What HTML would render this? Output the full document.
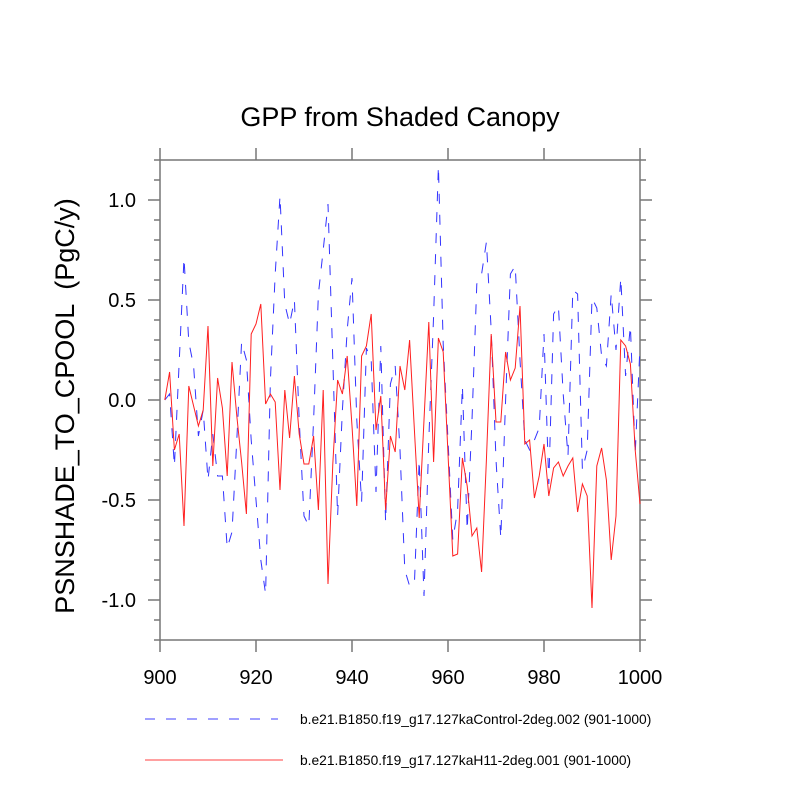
<!DOCTYPE html>
<html><head><meta charset="utf-8"><style>
html,body{margin:0;padding:0;background:#fff;}
svg{display:block;font-family:"Liberation Sans",Arial,sans-serif;}
</style></head><body>
<svg id="chart" width="800" height="800" viewBox="0 0 800 800">
<rect width="800" height="800" fill="#fff"/>
<text x="400" y="126" text-anchor="middle" font-size="27" fill="#000">GPP from Shaded Canopy</text>
<text transform="translate(74,406) rotate(-90)" text-anchor="middle" font-size="27" fill="#000" xml:space="preserve">PSNSHADE_TO_CPOOL  (PgC/y)</text>
<g id="axes"></g>
<g id="series"></g>
<g>
<line x1="145" y1="719" x2="278" y2="719" stroke="#4040ff" stroke-width="1" stroke-dasharray="10,11"/>
<text x="300" y="724" font-size="13.8" fill="#000">b.e21.B1850.f19_g17.127kaControl-2deg.002 (901-1000)</text>
<line x1="145" y1="760" x2="283" y2="760" stroke="#ff4040" stroke-width="1"/>
<text x="300" y="765" font-size="13.8" fill="#000">b.e21.B1850.f19_g17.127kaH11-2deg.001 (901-1000)</text>
</g>
</svg>
<script>
const years = Array.from({length:100},(_,i)=>901+i);
const controlValues = [0,0.03,-0.33,0.19,0.71,0.29,0.17,-0.18,-0.05,-0.40,
-0.17,-0.38,-0.38,-0.74,-0.66,-0.2,0.29,0.2,-0.2,-0.5,
-0.8,-0.97,0.1,0.63,1.02,0.48,0.38,0.5,-0.1,-0.58,
-0.63,-0.1,0.53,0.75,0.98,0.2,-0.58,-0.05,0.35,0.61,
-0.1,-0.51,0.26,0.2,-0.46,0.27,-0.61,0.08,0.17,-0.25,
-0.85,-0.93,-0.92,-0.3,-0.98,-0.2,0.42,1.17,0.28,-0.2,
-0.7,-0.55,0.07,-0.65,-0.1,0.58,0.63,0.79,0.35,-0.3,
-0.69,0.0,0.63,0.67,0.2,-0.2,-0.25,-0.2,-0.14,0.33,
-0.42,0.43,0.47,0.03,-0.28,0.55,0.53,-0.35,-0.25,0.51,
0.46,0.22,0.17,0.53,0.25,0.61,0.12,0.37,-0.27,0.27];
const h11Values = [0,0.14,-0.25,-0.17,-0.63,0.07,-0.03,-0.13,-0.05,0.37,
-0.33,0.11,-0.04,-0.38,0.19,-0.08,-0.31,-0.57,0.33,0.38,
0.48,-0.02,0.03,-0.01,-0.45,0.05,-0.19,0.12,-0.17,-0.32,
-0.32,-0.18,-0.55,0.05,-0.92,-0.32,0.10,0.03,0.22,-0.13,
-0.53,0.22,0.27,0.43,-0.15,0.02,-0.55,-0.18,-0.26,0.17,
0.05,0.30,-0.15,-0.59,-0.1,0.39,-0.31,0.31,0.24,-0.27,
-0.78,-0.77,-0.29,-0.43,-0.68,-0.64,-0.86,-0.3,0.33,-0.11,
-0.11,0.24,0.10,0.16,0.47,-0.22,-0.20,-0.49,-0.38,-0.22,
-0.48,-0.34,-0.31,-0.38,-0.33,-0.29,-0.56,-0.42,-0.48,-1.04,
-0.33,-0.24,-0.40,-0.80,-0.58,0.30,0.27,0.18,-0.25,-0.52];
const xTicks = [900,920,940,960,980,1000];
const yTicks = [-1.0,-0.5,0.0,0.5,1.0];
const yTickLabels = ["-1.0","-0.5","0.0","0.5","1.0"];

const L=160,R=640,T=160,B=640;
const xs = v => L + (v-900)/100*(R-L);
const ys = v => 400 - v*200;
const NS='http://www.w3.org/2000/svg';
const axes=document.getElementById('axes');
const ser=document.getElementById('series');
function mk(tag,attrs,parent){const e=document.createElementNS(NS,tag);for(const k in attrs)e.setAttribute(k,attrs[k]);parent.appendChild(e);return e;}
const ac='#777';
const frame=mk('rect',{x:L,y:T,width:R-L,height:B-T,fill:'none',stroke:ac,'stroke-width':1.5},axes);


xTicks.forEach(t=>{
  const x=xs(t);
  const tb=mk('line',{x1:x,y1:B,x2:x,y2:B+12,stroke:ac,'stroke-width':1.5},axes);
  
  
  const tt=mk('line',{x1:x,y1:T,x2:x,y2:T-12,stroke:ac,'stroke-width':1.5},axes);
  
  
  const lb=mk('text',{x:x,y:B+44,'text-anchor':'middle','font-size':20,fill:'#000'},axes);
  lb.textContent=t;
  
  
});
for(let k=-12;k<=12;k++){
  const v=k/10,y=ys(v);
  const major=(k%5===0);
  const len=major?12:6;
  const a=mk('line',{x1:L,y1:y,x2:L-len,y2:y,stroke:ac,'stroke-width':1.5},axes);
  
  
  const b=mk('line',{x1:R,y1:y,x2:R+len,y2:y,stroke:ac,'stroke-width':1.5},axes);
  
  
}
yTicks.forEach((t,i)=>{
  const lb=mk('text',{x:L-24,y:ys(t)+7,'text-anchor':'end','font-size':20,fill:'#000'},axes);
  lb.textContent=yTickLabels[i];
  
  
});
function pts(vals){return vals.map((v,i)=>xs(years[i]).toFixed(2)+','+ys(v).toFixed(2)).join(' ');}
const pc=mk('polyline',{points:pts(controlValues),fill:'none',stroke:'#3333ff','stroke-width':1,'stroke-dasharray':'10,11'},ser);


const ph=mk('polyline',{points:pts(h11Values),fill:'none',stroke:'#ff2020','stroke-width':1},ser);


</script>
</body></html>
